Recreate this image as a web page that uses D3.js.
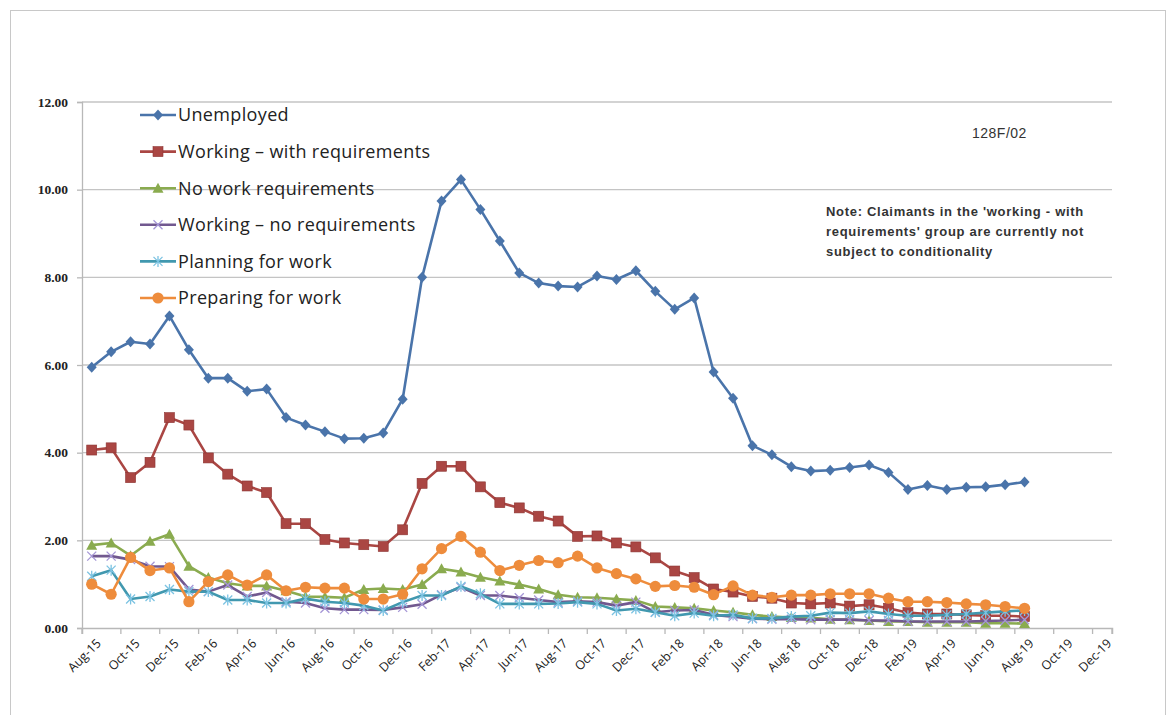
<!DOCTYPE html>
<html>
<head>
  <meta charset="utf-8">
  <title>Claimants by conditionality group</title>
  <script src="https://d3js.org/d3.v7.min.js"></script>
  <style>
    body { margin: 0; background: #fff; }
    svg { display: block; }
  </style>
</head>
<body>
  <div id="chart"></div>
  <script>
    // categories (monthly, Aug-15 .. Dec-19)
    var months = ["Aug-15","Sep-15","Oct-15","Nov-15","Dec-15","Jan-16","Feb-16","Mar-16","Apr-16","May-16","Jun-16","Jul-16",
      "Aug-16","Sep-16","Oct-16","Nov-16","Dec-16","Jan-17","Feb-17","Mar-17","Apr-17","May-17","Jun-17","Jul-17",
      "Aug-17","Sep-17","Oct-17","Nov-17","Dec-17","Jan-18","Feb-18","Mar-18","Apr-18","May-18","Jun-18","Jul-18",
      "Aug-18","Sep-18","Oct-18","Nov-18","Dec-18","Jan-19","Feb-19","Mar-19","Apr-19","May-19","Jun-19","Jul-19",
      "Aug-19","Sep-19","Oct-19","Nov-19","Dec-19"];

    var tickLabels = ["Aug-15","Oct-15","Dec-15","Feb-16","Apr-16","Jun-16","Aug-16","Oct-16","Dec-16","Feb-17","Apr-17",
      "Jun-17","Aug-17","Oct-17","Dec-17","Feb-18","Apr-18","Jun-18","Aug-18","Oct-18","Dec-18","Feb-19","Apr-19",
      "Jun-19","Aug-19","Oct-19","Dec-19"];

    var yTicks = [0, 2, 4, 6, 8, 10, 12];

    // series values, Aug-15 .. Aug-19
    var unemployed = [5.95,6.30,6.53,6.48,7.12,6.35,5.70,5.70,5.40,5.45,4.80,4.63,
      4.48,4.32,4.33,4.45,5.22,8.00,9.74,10.23,9.55,8.83,8.10,7.87,
      7.80,7.78,8.03,7.95,8.15,7.68,7.27,7.53,5.84,5.24,4.16,3.95,
      3.68,3.58,3.60,3.66,3.72,3.55,3.16,3.25,3.16,3.21,3.22,3.27,3.33];

    var workingWith = [4.06,4.11,3.43,3.78,4.80,4.63,3.88,3.51,3.24,3.09,2.38,2.38,
      2.02,1.94,1.90,1.86,2.24,3.30,3.69,3.69,3.22,2.86,2.74,2.55,
      2.44,2.09,2.10,1.94,1.85,1.60,1.30,1.15,0.89,0.82,0.72,0.68,
      0.57,0.55,0.57,0.50,0.53,0.45,0.35,0.32,0.32,0.30,0.28,0.28,0.26];

    var noWork = [1.89,1.94,1.65,1.98,2.14,1.41,1.15,1.02,0.96,0.96,0.85,0.72,
      0.71,0.69,0.88,0.90,0.88,0.99,1.35,1.28,1.16,1.07,0.99,0.89,
      0.76,0.70,0.69,0.66,0.63,0.49,0.47,0.45,0.40,0.36,0.30,0.26,
      0.24,0.23,0.20,0.19,0.17,0.15,0.15,0.13,0.13,0.13,0.11,0.11,0.10];

    var workingNo = [1.64,1.64,1.56,1.41,1.40,0.88,0.83,0.98,0.72,0.81,0.60,0.57,
      0.45,0.42,0.42,0.41,0.47,0.54,0.76,0.93,0.74,0.74,0.69,0.64,
      0.59,0.61,0.59,0.51,0.59,0.36,0.40,0.41,0.30,0.26,0.21,0.20,
      0.20,0.19,0.19,0.19,0.17,0.17,0.15,0.15,0.15,0.15,0.16,0.17,0.19];

    var planning = [1.18,1.32,0.66,0.72,0.88,0.83,0.83,0.64,0.64,0.57,0.57,0.67,
      0.60,0.57,0.51,0.40,0.59,0.74,0.74,0.95,0.78,0.55,0.55,0.55,
      0.56,0.59,0.55,0.40,0.44,0.36,0.28,0.34,0.28,0.30,0.22,0.22,
      0.26,0.28,0.35,0.34,0.38,0.32,0.28,0.28,0.30,0.32,0.35,0.38,0.40];

    var preparing = [1.00,0.77,1.61,1.31,1.37,0.60,1.06,1.21,0.98,1.21,0.85,0.93,
      0.91,0.91,0.66,0.66,0.77,1.35,1.81,2.09,1.73,1.31,1.43,1.54,
      1.49,1.64,1.37,1.24,1.12,0.95,0.97,0.93,0.76,0.96,0.75,0.70,
      0.75,0.75,0.78,0.78,0.78,0.68,0.60,0.60,0.58,0.55,0.53,0.49,0.45];

    var seriesNames = ["Unemployed", "Working \u2013 with requirements", "No work requirements",
      "Working \u2013 no requirements", "Planning for work", "Preparing for work"];

    var series = [
      { name: seriesNames[0], values: unemployed, color: "#4a74aa", marker: "diamond" },
      { name: seriesNames[1], values: workingWith, color: "#aa4643", marker: "square" },
      { name: seriesNames[2], values: noWork, color: "#8aab4f", marker: "triangle" },
      { name: seriesNames[3], values: workingNo, color: "#71588f", marker: "x" },
      { name: seriesNames[4], values: planning, color: "#4198af", marker: "star" },
      { name: seriesNames[5], values: preparing, color: "#ee8c3c", marker: "circle" }
    ];

    var W = 1168, H = 715;
    var plotLeft = 82, plotRight = 1112, plotTop = 102, plotBottom = 628;

    var svg = d3.select("#chart").append("svg")
      .attr("width", W)
      .attr("height", H);

    // chart area border
    svg.append("rect")
      .attr("x", 10.5).attr("y", 10.5)
      .attr("width", 1155).attr("height", 720)
      .attr("fill", "none")
      .attr("stroke", "#c8c8c8");

    var x = d3.scaleBand().domain(months).range([plotLeft, plotRight]).padding(0);
    var bw = x.bandwidth();
    var y = d3.scaleLinear().domain([0, 12]).range([plotBottom, plotTop]);

    function cx(i) { return x(months[i]) + bw / 2; }

    // gridlines
    svg.append("g")
      .selectAll("line")
      .data(yTicks.filter(function (d) { return d > 0; }))
      .enter().append("line")
      .attr("x1", plotLeft).attr("x2", plotRight)
      .attr("y1", function (d) { return y(d); })
      .attr("y2", function (d) { return y(d); })
      .attr("stroke", "#c4c4c4")
      .attr("stroke-width", 1.3);

    // y axis
    var yAxis = svg.append("g")
      .attr("transform", "translate(" + plotLeft + ",0)")
      .call(d3.axisLeft(y).tickValues(yTicks).tickFormat(d3.format(".2f")).tickSize(5).tickPadding(9));
    yAxis.select(".domain").attr("stroke", "#b8b8b8").attr("stroke-width", 1.3);
    yAxis.selectAll(".tick line").attr("stroke", "#b8b8b8").attr("stroke-width", 1.3);
    yAxis.selectAll("text")
      .attr("font-family", "'Liberation Serif', 'DejaVu Serif', serif")
      .attr("font-weight", "bold")
      .attr("font-size", "13.5px")
      .attr("fill", "#222");

    // x axis
    var xAxis = svg.append("g")
      .attr("transform", "translate(0," + plotBottom + ")")
      .call(d3.axisBottom(x).tickValues(tickLabels).tickSize(6));
    xAxis.select(".domain").attr("stroke", "#b8b8b8").attr("stroke-width", 1.5);
    xAxis.selectAll(".tick line")
      .attr("x1", -bw / 2).attr("x2", -bw / 2)
      .attr("stroke", "#b8b8b8").attr("stroke-width", 1.3);
    xAxis.append("line")
      .attr("x1", plotRight).attr("x2", plotRight).attr("y1", 0).attr("y2", 6)
      .attr("stroke", "#b8b8b8").attr("stroke-width", 1.3);
    xAxis.selectAll(".tick text")
      .attr("font-family", "'Open Sans', 'Liberation Sans', sans-serif")
      .attr("font-size", "12.5px")
      .attr("fill", "#222")
      .attr("text-anchor", "end")
      .attr("transform", "translate(7,13) rotate(-45)")
      .attr("dy", "0.35em")
      .attr("y", 0).attr("x", 0);

    // markers
    function drawMarker(g, type, color) {
      if (type === "diamond") {
        g.append("path").attr("d", "M0,-5.5L5,0L0,5.5L-5,0Z").attr("fill", color);
      } else if (type === "square") {
        g.append("rect").attr("x", -5).attr("y", -5).attr("width", 10).attr("height", 10)
          .attr("fill", color).attr("stroke", "#8c3432").attr("stroke-width", 0.6);
      } else if (type === "triangle") {
        g.append("path").attr("d", "M0,-5.5L5.5,4.5L-5.5,4.5Z").attr("fill", color);
      } else if (type === "x") {
        g.append("path").attr("d", "M-4.5,-4.5L4.5,4.5M-4.5,4.5L4.5,-4.5")
          .attr("stroke", "#a596d6").attr("stroke-width", 1.3).attr("fill", "none");
      } else if (type === "star") {
        g.append("path").attr("d", "M-4.5,-4.5L4.5,4.5M-4.5,4.5L4.5,-4.5M0,-5.5L0,5.5")
          .attr("stroke", "#7cc3e2").attr("stroke-width", 1.3).attr("fill", "none");
      } else if (type === "circle") {
        g.append("circle").attr("r", 5.6).attr("fill", color);
      }
    }

    var line = d3.line()
      .x(function (d, i) { return cx(i); })
      .y(function (d) { return y(d); });

    series.forEach(function (s) {
      var g = svg.append("g");
      g.append("path")
        .datum(s.values)
        .attr("d", line)
        .attr("fill", "none")
        .attr("stroke", s.color)
        .attr("stroke-width", 2.6)
        .attr("stroke-linejoin", "round");
      s.values.forEach(function (v, i) {
        var m = g.append("g").attr("transform", "translate(" + cx(i) + "," + y(v) + ")");
        drawMarker(m, s.marker, s.color);
      });
    });

    // legend
    var legend = svg.append("g");
    series.forEach(function (s, i) {
      var ly = 115 + i * 36.6;
      legend.append("line")
        .attr("x1", 140).attr("x2", 176)
        .attr("y1", ly).attr("y2", ly)
        .attr("stroke", s.color).attr("stroke-width", 2.6);
      var m = legend.append("g").attr("transform", "translate(158," + ly + ")");
      drawMarker(m, s.marker, s.color);
      legend.append("text")
        .attr("x", 178).attr("y", ly)
        .attr("dy", "0.35em")
        .attr("font-family", "'Open Sans', 'Liberation Sans', sans-serif")
        .attr("font-size", "18px")
        .attr("letter-spacing", "0.35px")
        .attr("fill", "#222")
        .text(s.name);
    });

    // code label and note
    svg.append("text")
      .attr("x", 972).attr("y", 138)
      .attr("font-family", "'Liberation Sans', Arial, sans-serif")
      .attr("font-size", "14px")
      .attr("letter-spacing", "0.5px")
      .attr("fill", "#333")
      .text("128F/02");

    var note = ["Note: Claimants in the 'working - with", "requirements' group are currently not", "subject to conditionality"];
    svg.append("g").selectAll("text")
      .data(note)
      .enter().append("text")
      .attr("x", 826)
      .attr("y", function (d, i) { return 216 + i * 20; })
      .attr("font-family", "'Liberation Sans', Arial, sans-serif")
      .attr("font-size", "13px")
      .attr("letter-spacing", "0.7px")
      .attr("font-weight", "bold")
      .attr("fill", "#333")
      .text(function (d) { return d; });
  </script>
</body>
</html>
